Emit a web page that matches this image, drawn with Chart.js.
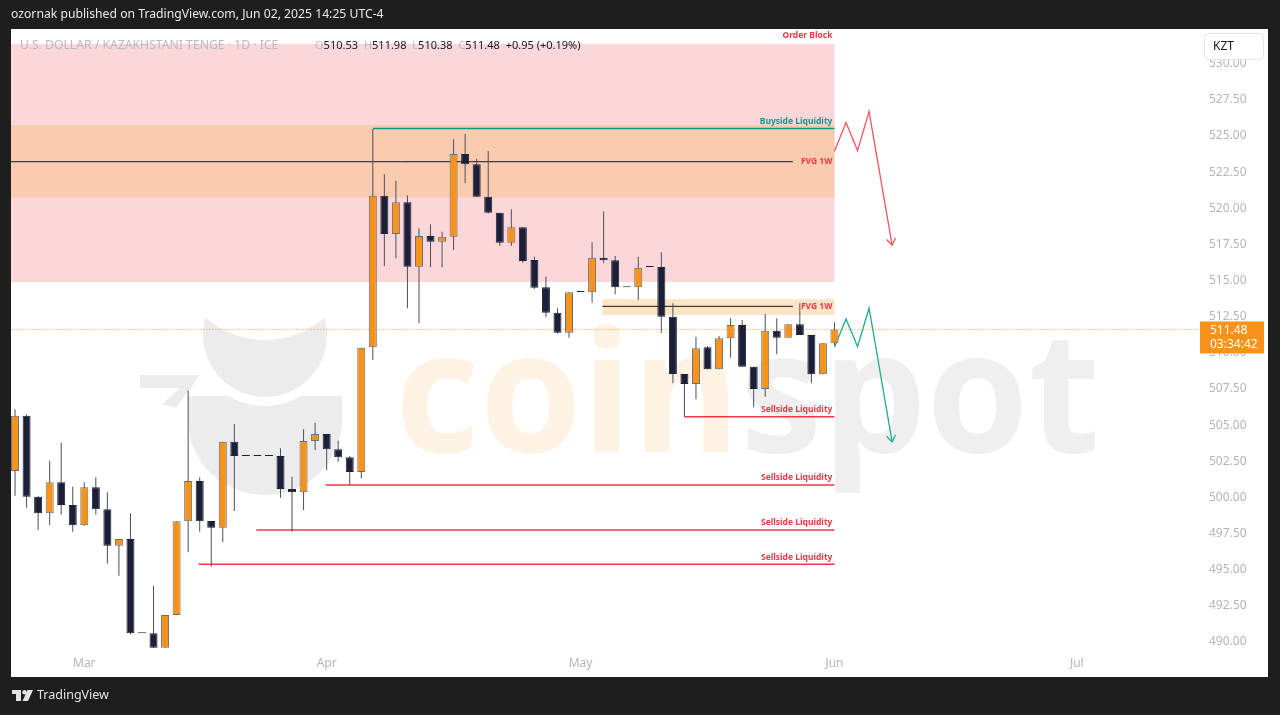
<!DOCTYPE html>
<html>
<head>
<meta charset="utf-8">
<script src="https://cdn.jsdelivr.net/npm/chart.js@4.4.1/dist/chart.umd.min.js"></script>
<style>
    html, body { margin: 0; padding: 0; background: #1e1e1e; width: 1280px; height: 715px; overflow: hidden; font-family: "Noto Sans", sans-serif; }
    #wrap { position: relative; width: 1280px; height: 715px; }
    #chart { position: absolute; left: 0; top: 0; }
    #head { position: absolute; left: 11px; top: 5px; color: #e8e8e8; font-size: 12.2px; white-space: nowrap; }
    #title { position: absolute; left: 20px; top: 37px; color: #b7b9c0; font-size: 12.2px; white-space: nowrap; line-height: 15px; }
    #ohlc { position: absolute; left: 315px; top: 37px; color: #131722; font-size: 11px; white-space: nowrap; line-height: 15px; }
    #ohlc b { font-weight: normal; color: #b7b9c0; }
    #ohlc span { margin-right: 3px; }
    #foot { position: absolute; left: 37px; top: 686px; color: #e3e3e3; font-size: 12.5px; white-space: nowrap; }
</style>
</head>
<body>
<div id="wrap">
    <canvas id="chart" width="1280" height="715"></canvas>
    <div id="head">ozornak published on TradingView.com, Jun 02, 2025 14:25 UTC-4</div>
    <div id="title">U.S. DOLLAR / KAZAKHSTANI TENGE · 1D · ICE</div>
    <div id="ohlc"><span><b>O</b>510.53</span> <span><b>H</b>511.98</span> <span><b>L</b>510.38</span> <span><b>C</b>511.48</span> <span>+0.95 (+0.19%)</span></div>
    <div id="foot">TradingView</div>
</div>
<script>
// daily bars, index 0 = Feb 21 2025, index 71 = Jun 2 2025
const monthTicks = [6, 27, 49, 71, 92];
const monthLabels = ["Mar", "Apr", "May", "Jun", "Jul"];

const opens = [501.69, 505.51, 499.91, 498.76, 500.91, 499.34, 497.93, 500.56, 499.04, 496.52,
    496.99, 490.46, 490.46, 489.47, 491.73, 498.21, 501.00, 498.23, 497.77, 503.72,
    502.73, 502.73, 502.73, 502.73, 500.44, 500.22, 503.76, 504.25, 503.19, 502.64,
    501.62, 510.25, 520.73, 518.08, 520.28, 515.82, 517.94, 517.55, 517.90, 523.62,
    522.90, 520.66, 519.56, 517.48, 518.55, 516.28, 514.40, 512.64, 511.26, 514.07,
    514.05, 516.44, 516.26, 514.40, 514.40, 515.80, 515.80, 512.36, 508.40, 507.71,
    510.25, 508.72, 510.87, 511.79, 508.90, 507.36, 511.39, 510.91, 511.84, 511.10,
    508.38, 510.53];
const highs = [505.96, 505.60, 499.95, 502.40, 503.65, 500.60, 500.91, 501.25, 500.22, 496.99,
    498.76, 490.46, 493.73, 491.73, 498.21, 507.25, 501.25, 498.23, 503.72, 504.94,
    502.73, 502.73, 502.73, 503.26, 501.30, 504.57, 505.03, 504.25, 503.79, 502.73,
    510.22, 525.35, 522.21, 521.77, 520.76, 518.48, 518.75, 518.24, 524.63, 525.00,
    523.27, 523.82, 519.56, 519.79, 518.55, 516.51, 515.13, 512.94, 514.05, 514.07,
    517.51, 519.63, 516.56, 514.40, 516.51, 515.80, 516.82, 513.29, 508.40, 510.98,
    510.34, 511.03, 512.25, 512.13, 508.90, 512.55, 512.25, 511.84, 513.29, 511.10,
    510.52, 511.98];
const lows = [499.98, 499.15, 497.61, 497.95, 498.69, 497.49, 497.90, 498.69, 495.30, 494.45,
    490.39, 490.46, 489.47, 489.47, 491.73, 496.07, 497.49, 495.07, 496.76, 498.92,
    502.73, 502.73, 502.73, 499.84, 497.49, 498.99, 503.14, 501.76, 502.33, 500.72,
    501.18, 509.37, 515.87, 516.40, 512.94, 511.91, 515.78, 515.78, 516.98, 521.59,
    520.66, 519.50, 517.25, 517.25, 516.10, 514.28, 512.32, 511.20, 510.91, 514.07,
    513.33, 516.06, 513.91, 514.40, 513.52, 515.80, 511.26, 507.76, 505.45, 506.65,
    508.72, 508.72, 509.53, 508.90, 506.10, 506.83, 509.76, 510.91, 511.10, 507.76,
    508.38, 510.38];
const closes = [505.51, 499.91, 498.76, 500.91, 499.34, 497.93, 500.56, 499.04, 496.52, 496.99,
    490.46, 490.46, 489.47, 491.73, 498.21, 501.00, 498.21, 497.77, 503.72, 502.73,
    502.73, 502.73, 502.73, 500.44, 500.22, 503.76, 504.25, 503.19, 502.64, 501.62,
    510.22, 520.73, 518.08, 520.28, 515.82, 517.94, 517.55, 517.90, 523.62, 522.90,
    520.66, 519.56, 517.48, 518.55, 516.22, 514.37, 512.64, 511.26, 514.05, 514.07,
    516.44, 516.26, 514.40, 514.40, 515.75, 515.80, 512.36, 508.40, 507.71, 510.18,
    508.72, 510.87, 511.79, 508.90, 507.36, 511.39, 510.91, 511.84, 511.10, 508.38,
    510.52, 511.48];

const lastPrice = 511.48;
const countdown = "03:34:42";

// drawn levels (price) and where they start (bar index)
const orderBlock = [514.76, 531.23];
const fvgWeekly = [520.60, 525.62];
const fvgWeeklyMid = 523.08;
const fvgSmall = [512.48, 513.57];
const fvgSmallMid = 513.08;
const fvgSmallFrom = 50.9;
const buysideLevel = 525.37;
const buysideFrom = 31;
const sellsideLevels = [505.45, 500.72, 497.61, 495.24];
const sellsideFrom = [58, 26.9, 20.9, 15.9];
const drawEnd = 71;
const midLineEnd = 67.4;

// projected paths
const pathX = [71, 72, 73, 74, 76];
const bearPath = [523.80, 525.80, 523.85, 526.55, 517.30];
const bullPath = [510.25, 512.20, 510.30, 512.95, 503.70];

const UP = "#f7931a", DOWN = "#1b2038", WICK = "#4b4f5c";
const RED = "#f23645", GREEN = "#089981";

function lineSet(xs, ys, color, width, extra) {
    return Object.assign({
        type: "line",
        data: xs.map((v, i) => ({ x: v, y: ys[i] })),
        borderColor: color,
        borderWidth: width,
        pointRadius: 0,
        tension: 0,
        order: 3,
    }, extra || {});
}

const datasets = [
    {
        label: "bodies",
        data: closes.map((c, i) => ({ x: i, y: [opens[i], c] })),
        backgroundColor: closes.map((c, i) => (c > opens[i] ? UP : DOWN)),
        borderColor: closes.map((c, i) => (c > opens[i] ? "#6a6d78" : DOWN)),
        borderWidth: 1,
        borderSkipped: false,
        grouped: false,
        maxBarThickness: 8,
        minBarLength: 1,
        order: 0,
    },
    {
        label: "wicks",
        data: highs.map((h, i) => ({ x: i, y: [lows[i], h] })),
        backgroundColor: WICK,
        borderWidth: 0,
        grouped: false,
        maxBarThickness: 1,
        order: 1,
    },
    lineSet([-5, 110], [lastPrice, lastPrice], UP, 1, { borderDash: [1, 2], order: 4 }),
    lineSet([-5, midLineEnd], [fvgWeeklyMid, fvgWeeklyMid], "#131722", 1),
    lineSet([fvgSmallFrom, midLineEnd], [fvgSmallMid, fvgSmallMid], "#131722", 1),
    lineSet([buysideFrom, drawEnd], [buysideLevel, buysideLevel], GREEN, 1.5),
    lineSet(pathX, bearPath, "#f7525f", 1.3, { arrow: true, order: 2 }),
    lineSet(pathX, bullPath, "#22ab94", 1.3, { arrow: true, order: 2 }),
];
sellsideLevels.forEach((lv, i) => {
    datasets.push(lineSet([sellsideFrom[i], drawEnd], [lv, lv], RED, 1.5));
});

function drawWatermark(ctx) {
    ctx.save();
    ctx.fillStyle = "#ececec";
    // lower body of the logo
    ctx.beginPath();
    ctx.moveTo(188, 396);
    ctx.lineTo(342, 396);
    ctx.ellipse(265, 420, 77, 75, 0, 0, Math.PI, false);
    ctx.closePath();
    ctx.fill();
    ctx.fillStyle = "#ffffff";
    ctx.beginPath(); ctx.arc(265, 335, 71, 0, Math.PI * 2); ctx.fill();
    // bowl
    ctx.fillStyle = "#ececec";
    ctx.beginPath(); ctx.arc(265, 335, 62, 0, Math.PI * 2); ctx.fill();
    ctx.fillStyle = "#ffffff";
    ctx.beginPath(); ctx.arc(265, 250, 90, 0, Math.PI * 2); ctx.fill();
    // arrow
    ctx.fillStyle = "#ececec";
    ctx.beginPath();
    ctx.moveTo(140, 375); ctx.lineTo(200, 375); ctx.lineTo(176, 408);
    ctx.lineTo(162, 404); ctx.lineTo(180, 388); ctx.lineTo(140, 388);
    ctx.closePath(); ctx.fill();
    // word mark
    ctx.font = 'bold 168px "Open Sans"';
    ctx.textBaseline = "alphabetic";
    ctx.textAlign = "left";
    const w1 = ctx.measureText("coin").width;
    const wAll = ctx.measureText("coinspot").width;
    ctx.translate(395, 452);
    ctx.scale(705 / wAll, 1);
    ctx.fillStyle = "#fdf2e4";
    ctx.fillText("coin", 0, 0);
    ctx.fillStyle = "#efefef";
    ctx.fillText("spot", w1, 0);
    ctx.restore();
}

const overlay = {
    id: "overlay",
    beforeDraw(chart) {
        const ctx = chart.ctx;
        ctx.save();
        ctx.fillStyle = "#ffffff";
        ctx.fillRect(11, 29, 1257, 648);
        ctx.restore();
    },
    beforeDatasetsDraw(chart) {
        const { ctx, chartArea: a, scales: { x, y } } = chart;
        ctx.save();
        ctx.beginPath();
        ctx.rect(a.left, a.top, a.right - a.left, a.bottom - a.top);
        ctx.clip();
        drawWatermark(ctx);
        const zone = (x0, x1, p, color) => {
            const l = x.getPixelForValue(x0), r = x.getPixelForValue(x1);
            const t = y.getPixelForValue(p[1]), b = y.getPixelForValue(p[0]);
            ctx.fillStyle = color;
            ctx.fillRect(l, t, r - l, b - t);
        };
        zone(-5, drawEnd, orderBlock, "#fcd7da");
        zone(-5, drawEnd, fvgWeekly, "#fbcbb0");
        zone(fvgSmallFrom, drawEnd, fvgSmall, "#fce5c6");
        ctx.restore();
    },
    afterDatasetsDraw(chart) {
        const { ctx, scales: { x, y } } = chart;
        ctx.save();
        // arrow heads at the end of projected paths
        chart.data.datasets.forEach((ds, i) => {
            if (!ds.arrow) return;
            const pts = chart.getDatasetMeta(i).data;
            const a = pts[pts.length - 2], b = pts[pts.length - 1];
            const ang = Math.atan2(b.y - a.y, b.x - a.x);
            ctx.strokeStyle = ds.borderColor;
            ctx.lineWidth = 1.3;
            ctx.beginPath();
            [0.6, -0.6].forEach((d) => {
                ctx.moveTo(b.x, b.y);
                ctx.lineTo(b.x - 8 * Math.cos(ang + d), b.y - 8 * Math.sin(ang + d));
            });
            ctx.stroke();
        });
        // drawing labels
        const xr = x.getPixelForValue(drawEnd) - 2;
        ctx.font = 'bold 8.5px "Noto Sans"';
        ctx.textAlign = "right";
        ctx.textBaseline = "middle";
        const label = (text, price, dy, color) => {
            ctx.fillStyle = color;
            ctx.fillText(text, xr, y.getPixelForValue(price) + dy);
        };
        label("Order Block", orderBlock[1], -8, RED);
        label("Buyside Liquidity", buysideLevel, -7, GREEN);
        label("FVG 1W", fvgWeeklyMid, 0, RED);
        label("FVG 1W", fvgSmallMid, 0, RED);
        sellsideLevels.forEach((lv) => label("Sellside Liquidity", lv, -7, RED));
        ctx.restore();
    },
    afterDraw(chart) {
        const { ctx, scales: { y } } = chart;
        ctx.save();
        // currency box
        ctx.fillStyle = "#ffffff";
        ctx.strokeStyle = "#e0e3eb";
        ctx.lineWidth = 1;
        ctx.beginPath();
        ctx.roundRect(1204.5, 33.5, 59, 26, 4);
        ctx.fill();
        ctx.stroke();
        ctx.fillStyle = "#131722";
        ctx.font = '12px "Noto Sans"';
        ctx.textAlign = "left";
        ctx.textBaseline = "middle";
        ctx.fillText("KZT", 1213, 46.5);
        // last price tag
        const py = y.getPixelForValue(lastPrice);
        ctx.fillStyle = UP;
        ctx.fillRect(1200, py - 8, 64, 32);
        ctx.fillStyle = "#ffffff";
        ctx.fillText(lastPrice.toFixed(2), 1210, py + 1);
        ctx.fillText(countdown, 1210, py + 15);
        // TradingView logo mark
        ctx.fillStyle = "#e3e3e3";
        ctx.fillRect(12, 690, 9, 4);
        ctx.fillRect(16, 690, 5, 11);
        ctx.beginPath(); ctx.arc(24.5, 692.2, 2.2, 0, Math.PI * 2); ctx.fill();
        ctx.beginPath();
        ctx.moveTo(27.5, 690); ctx.lineTo(33, 690); ctx.lineTo(28, 701); ctx.lineTo(22.5, 701);
        ctx.closePath(); ctx.fill();
        ctx.restore();
    },
};

new Chart(document.getElementById("chart").getContext("2d"), {
    type: "bar",
    data: { datasets: datasets },
    options: {
        responsive: false,
        animation: false,
        layout: { padding: { left: 11, top: 29, right: 12, bottom: 38 } },
        plugins: { legend: { display: false }, tooltip: { enabled: false } },
        scales: {
            x: {
                type: "linear",
                offset: false,
                min: -0.35,
                max: 102.5,
                grid: { display: false, drawTicks: false, offset: false },
                border: { display: false },
                afterBuildTicks: (s) => { s.ticks = monthTicks.map((v) => ({ value: v })); },
                afterFit: (s) => { s.height = 27; s.paddingLeft = 0; s.paddingRight = 0; },
                ticks: {
                    autoSkip: false,
                    maxRotation: 0,
                    padding: 6,
                    color: "#b2b5be",
                    font: { family: "Noto Sans", size: 12 },
                    callback: (v) => monthLabels[monthTicks.indexOf(v)],
                },
            },
            y: {
                position: "right",
                min: 489.31,
                max: 532.26,
                grid: { display: false, drawTicks: false },
                border: { display: false },
                afterFit: (s) => { s.width = 70; s.paddingTop = 0; s.paddingBottom = 0; },
                ticks: {
                    stepSize: 2.5,
                    includeBounds: false,
                    padding: 11,
                    labelOffset: 2,
                    color: "#b2b5be",
                    font: { family: "Noto Sans", size: 12 },
                    callback: (v) => Number(v).toFixed(2),
                },
            },
        },
    },
    plugins: [overlay],
});
</script>
</body>
</html>
